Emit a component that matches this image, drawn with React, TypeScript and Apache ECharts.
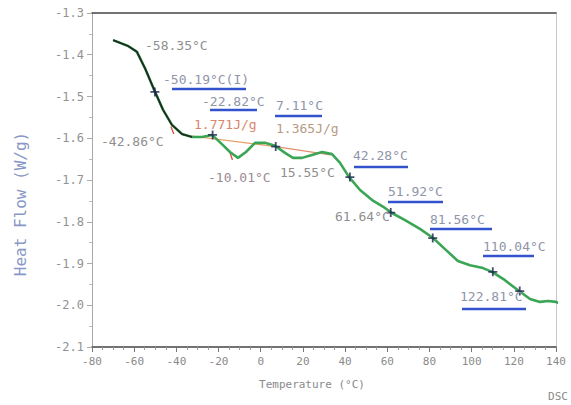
import React, { useEffect, useRef } from "react";
import * as echarts from "echarts";

// DSC curve: temperature (°C) and heat flow (W/g)
const temps = [-70.0, -62.9, -58.7, -54.9, -50.1, -46.3, -42.1, -37.3, -32.6, -27.8, -23.1, -18.4, -14.6, -10.8, -7.0, -2.7, 2.0, 6.8, 11.5, 15.3, 19.6, 24.3, 29.1, 33.8, 37.6, 41.9, 47.1, 52.8, 58.9, 62.2, 68.4, 75.5, 81.7, 87.9, 93.5, 99.2, 105.4, 109.7, 115.8, 122.5, 127.7, 132.4, 136.2, 140.0, 143.3];
const flows = [-1.365, -1.379, -1.393, -1.432, -1.489, -1.532, -1.568, -1.590, -1.597, -1.597, -1.592, -1.614, -1.633, -1.647, -1.633, -1.611, -1.611, -1.618, -1.635, -1.647, -1.647, -1.640, -1.633, -1.638, -1.659, -1.693, -1.724, -1.748, -1.767, -1.779, -1.796, -1.817, -1.839, -1.868, -1.894, -1.904, -1.911, -1.920, -1.940, -1.966, -1.985, -1.992, -1.990, -1.992, -1.999];
const blackSegmentEnd = -32.6;

// inflection markers
const markerTemps = [-50.19, -22.82, 7.11, 42.28, 61.64, 81.56, 110.04, 122.81];
const markerFlows = [-1.489, -1.592, -1.620, -1.693, -1.778, -1.839, -1.920, -1.966];

// baselines (integration)
const base1Temps = [-37.0, 7.1];
const base1Flows = [-1.592, -1.620];
const base2Temps = [7.1, 33.0];
const base2Flows = [-1.620, -1.640];
const redTick1Temps = [-42.6, -41.2];
const redTick1Flows = [-1.572, -1.590];
const redTick2Temps = [-14.6, -13.4];
const redTick2Flows = [-1.634, -1.652];

// tick labels
const xTicks = [-80, -60, -40, -20, 0, 20, 40, 60, 80, 100, 120, 140];
const yTicks = [-1.3, -1.4, -1.5, -1.6, -1.7, -1.8, -1.9, -2.0, -2.1];

// annotation texts
const annoTexts = ["-58.35°C", "-50.19°C(I)", "-22.82°C", "1.771J/g", "7.11°C", "1.365J/g", "-42.86°C", "-10.01°C", "15.55°C", "42.28°C", "51.92°C", "61.64°C", "81.56°C", "110.04°C", "122.81°C"];

const MONO = "'DejaVu Sans Mono', 'Liberation Mono', monospace";

export default function App() {
  const ref = useRef<HTMLDivElement>(null);
  useEffect(() => {
    if (!ref.current) return;
    const chart = echarts.init(ref.current, undefined, { renderer: "svg" });
    const zip = (a: number[], b: number[]) => a.map((v, i) => [v, b[i]]);
    const curve = zip(temps, flows);
    const blackPart = curve.filter((p) => p[0] <= blackSegmentEnd);

    const gray = "#8f8f8f";
    const blueGray = "#8f95aa";
    const salmon = "#d9866c";
    const underline = "#3353cc";

    // layout of annotations: [x, y, color, underline [x1,x2,y] or null]
    const layout: any[] = [
      [145, 45, gray, null],
      [163, 79, blueGray, [172, 246, 89]],
      [202, 101, blueGray, [210, 257, 110]],
      [194, 124, salmon, null],
      [276, 105, blueGray, [275, 322, 116]],
      [276, 128, "#b79a86", null],
      [101, 141, gray, null],
      [208, 177, "#9a8a94", null],
      [280, 172, gray, null],
      [353, 155, blueGray, [354, 408, 167]],
      [388, 191, blueGray, [388, 443, 202]],
      [335, 216, gray, null],
      [430, 219, blueGray, [430, 492, 229]],
      [483, 246, blueGray, [483, 534, 256]],
      [460, 296, blueGray, [462, 526, 309]],
    ];
    const graphics: any[] = [];
    annoTexts.forEach((t, i) => {
      const [x, y, c, u] = layout[i];
      graphics.push({
        type: "text",
        x,
        y,
        style: { text: t, fill: c, font: `13px ${MONO}`, textVerticalAlign: "middle" },
        z: 10,
      });
      if (u) {
        graphics.push({
          type: "line",
          shape: { x1: u[0], y1: u[2], x2: u[1], y2: u[2] },
          style: { stroke: underline, lineWidth: 2.5 },
          z: 10,
        });
      }
    });
    graphics.push(
      {
        type: "text",
        x: 20,
        y: 204,
        rotation: Math.PI / 2,
        style: { text: "Heat Flow (W/g)", fill: "#8898c6", font: `16px ${MONO}`, textAlign: "center", textVerticalAlign: "middle" },
      },
      {
        type: "text",
        x: 312,
        y: 384,
        style: { text: "Temperature (°C)", fill: "#8a8a8a", font: `11px ${MONO}`, textAlign: "center", textVerticalAlign: "middle" },
      },
      {
        type: "text",
        x: 558,
        y: 396,
        style: { text: "DSC", fill: "#8a8a8a", font: `11px ${MONO}`, textAlign: "center", textVerticalAlign: "middle" },
      }
    );

    const plusPath = "path://M4,0H6V4H10V6H6V10H4V6H0V4H4Z";

    chart.setOption({
      animation: false,
      backgroundColor: "#ffffff",
      grid: { left: 92, right: 15, top: 13, bottom: 58, show: false },
      xAxis: [
        {
          type: "value",
          min: xTicks[0],
          max: xTicks[xTicks.length - 1],
          interval: 20,
          position: "bottom",
          axisLine: { show: true, onZero: false, lineStyle: { color: "#444", width: 1.5 } },
          axisTick: { show: true, length: 5, lineStyle: { color: "#777" } },
          minorTick: { show: true, splitNumber: 4, length: 3, lineStyle: { color: "#999" } },
          axisLabel: { color: "#8a8a8a", fontFamily: MONO, fontSize: 11, margin: 9 },
          splitLine: { show: false },
        },
        {
          type: "value",
          min: xTicks[0],
          max: xTicks[xTicks.length - 1],
          interval: 20,
          position: "top",
          axisLine: { show: true, onZero: false, lineStyle: { color: "#444", width: 1.5 } },
          axisTick: { show: false },
          axisLabel: { show: false },
          splitLine: { show: false },
        },
      ],
      yAxis: [
        {
          type: "value",
          min: yTicks[yTicks.length - 1],
          max: yTicks[0],
          interval: 0.1,
          position: "left",
          axisLine: { show: true, onZero: false, lineStyle: { color: "#aaa" } },
          axisTick: { show: true, length: 5, lineStyle: { color: "#aaa" } },
          minorTick: { show: true, splitNumber: 2, length: 3, lineStyle: { color: "#bbb" } },
          axisLabel: { color: "#929292", fontFamily: MONO, fontSize: 12, margin: 8, formatter: (v: number) => v.toFixed(1) },
          splitLine: { show: false },
        },
        {
          type: "value",
          min: yTicks[yTicks.length - 1],
          max: yTicks[0],
          interval: 0.1,
          position: "right",
          axisLine: { show: true, onZero: false, lineStyle: { color: "#c8c8c8" } },
          axisTick: { show: false },
          axisLabel: { show: false },
          splitLine: { show: false },
        },
      ],
      series: [
        {
          type: "line",
          data: curve,
          showSymbol: false,
          clip: false,
          lineStyle: { color: "#3aa655", width: 2.6 },
          z: 3,
        },
        {
          type: "line",
          data: blackPart,
          showSymbol: false,
          clip: false,
          lineStyle: { color: "#1e2a22", width: 1.8 },
          z: 4,
        },
        {
          type: "line",
          data: zip(base1Temps, base1Flows),
          showSymbol: false,
          lineStyle: { color: "#e8a066", width: 1.3 },
          z: 2,
        },
        {
          type: "line",
          data: zip(base2Temps, base2Flows),
          showSymbol: false,
          lineStyle: { color: "#e0906a", width: 1.3 },
          z: 2,
        },
        {
          type: "line",
          data: zip(redTick1Temps, redTick1Flows),
          showSymbol: false,
          lineStyle: { color: "#d85040", width: 1.3 },
          z: 2,
        },
        {
          type: "line",
          data: zip(redTick2Temps, redTick2Flows),
          showSymbol: false,
          lineStyle: { color: "#d85040", width: 1.3 },
          z: 2,
        },
        {
          type: "scatter",
          data: zip(markerTemps, markerFlows),
          symbol: plusPath,
          symbolSize: 9,
          itemStyle: { color: "#1b2450" },
          z: 5,
        },
      ],
      graphic: graphics,
    });
    return () => chart.dispose();
  }, []);
  return <div ref={ref} style={{ width: 571, height: 405, position: "absolute", left: 0, top: 0 }} />;
}
